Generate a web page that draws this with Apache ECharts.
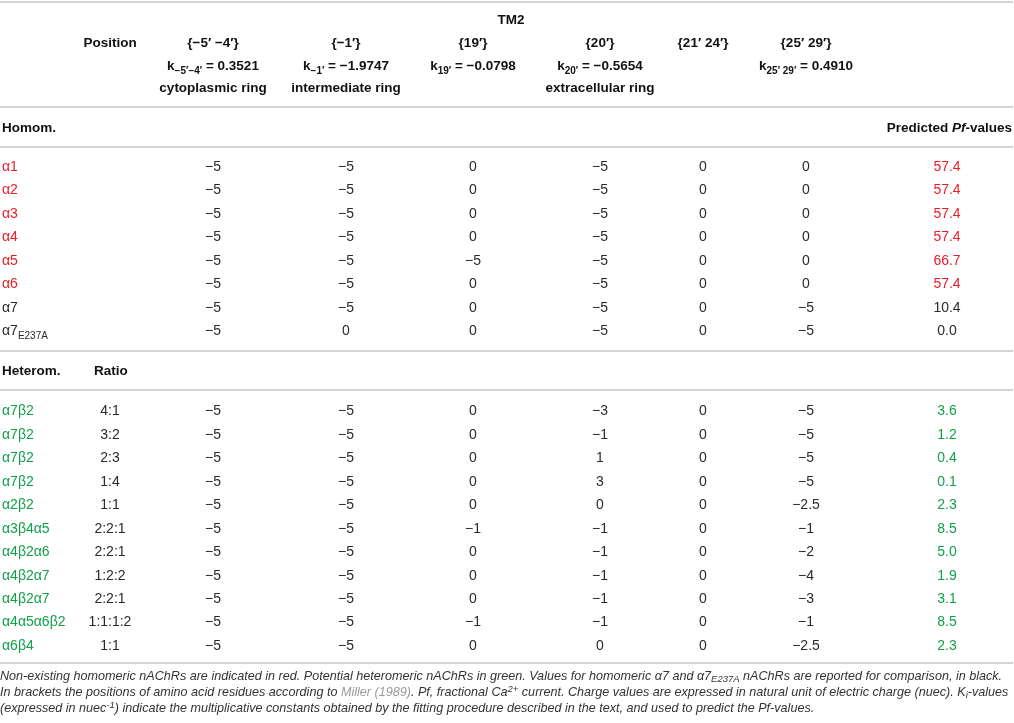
<!DOCTYPE html>
<html><head><meta charset="utf-8">
<script src="https://cdn.jsdelivr.net/npm/echarts@6/dist/echarts.min.js"></script>
<style>html,body{margin:0;padding:0;background:#fff}#c{width:1014px;height:723px}</style>
</head><body><div id="c"></div>
<script>
// ---------- DATA ----------
const colHeads   = ['{−5′ −4′}', '{−1′}', '{19′}', '{20′}', '{21′ 24′}', '{25′ 29′}'];
const kLabels    = ['k{ks|−5′−4′} = 0.3521', 'k{ks|−1′} = −1.9747', 'k{ks|19′} = −0.0798', 'k{ks|20′} = −0.5654', '', 'k{ks|25′ 29′} = 0.4910'];
const ringLabels = ['cytoplasmic ring', 'intermediate ring', '', 'extracellular ring', '', ''];

const homomNames  = ['α1', 'α2', 'α3', 'α4', 'α5', 'α6', 'α7', 'α7{sub|E237A}'];
const homomStatus = ['nonexisting', 'nonexisting', 'nonexisting', 'nonexisting', 'nonexisting', 'nonexisting', 'reference', 'reference'];
const homomC1 = [-5, -5, -5, -5, -5, -5, -5, -5];
const homomC2 = [-5, -5, -5, -5, -5, -5, -5, 0];
const homomC3 = [0, 0, 0, 0, -5, 0, 0, 0];
const homomC4 = [-5, -5, -5, -5, -5, -5, -5, -5];
const homomC5 = [0, 0, 0, 0, 0, 0, 0, 0];
const homomC6 = [0, 0, 0, 0, 0, 0, -5, -5];
const homomPf = [57.4, 57.4, 57.4, 57.4, 66.7, 57.4, 10.4, 0.0];

const heteroNames  = ['α7β2', 'α7β2', 'α7β2', 'α7β2', 'α2β2', 'α3β4α5', 'α4β2α6', 'α4β2α7', 'α4β2α7', 'α4α5α6β2', 'α6β4'];
const heteroStatus = ['potential', 'potential', 'potential', 'potential', 'potential', 'potential', 'potential', 'potential', 'potential', 'potential', 'potential'];
const heteroRatio  = ['4:1', '3:2', '2:3', '1:4', '1:1', '2:2:1', '2:2:1', '1:2:2', '2:2:1', '1:1:1:2', '1:1'];
const heteroC1 = [-5, -5, -5, -5, -5, -5, -5, -5, -5, -5, -5];
const heteroC2 = [-5, -5, -5, -5, -5, -5, -5, -5, -5, -5, -5];
const heteroC3 = [0, 0, 0, 0, 0, -1, 0, 0, 0, -1, 0];
const heteroC4 = [-3, -1, 1, 3, 0, -1, -1, -1, -1, -1, 0];
const heteroC5 = [0, 0, 0, 0, 0, 0, 0, 0, 0, 0, 0];
const heteroC6 = [-5, -5, -5, -5, -2.5, -1, -2, -4, -3, -1, -2.5];
const heteroPf = [3.6, 1.2, 0.4, 0.1, 2.3, 8.5, 5.0, 1.9, 3.1, 8.5, 2.3];

// ---------- STYLE / LAYOUT ----------
const FONT = '"Liberation Sans", Arial, Helvetica, sans-serif';
const statusColor = { nonexisting: '#ec1c28', reference: '#2a2a2a', potential: '#12a04a' };
const VALUE_COLOR = '#2a2a2a';
const HEAD_COLOR = '#111111';
const RULE_COLOR = '#c6c6c6';
const ROW_H = 23.45;
const L = {
  homTop: 167 - ROW_H / 2,
  hetTop: 411.5 - ROW_H / 2,
  nameX: 2, ratioX: 110,
  colX: [213, 346, 473, 600, 703, 806],
  pfX: 947,
  rules: [2, 107, 147, 351, 390, 663],
  headY: [43, 66, 88],
  tm2: { x: 511, y: 20 },
  sub1Y: 128, sub2Y: 371,
  footY: [676, 692, 708]
};

const fmt = v => (v < 0 ? '−' + Math.abs(v) : String(v));
const fmtPf = v => v.toFixed(1);

const grids = [], xAxes = [], yAxes = [], series = [];
const subRich = {
  sub: { fontFamily: FONT, fontSize: 10, verticalAlign: 'bottom', lineHeight: 10 }
};
function addColumn(texts, colors, x, align, top) {
  const n = texts.length;
  const gi = grids.length;
  const w = 120;
  grids.push({ left: align === 'left' ? x : x - w / 2, top: top, width: w, height: n * ROW_H });
  xAxes.push({ gridIndex: gi, type: 'value', min: align === 'left' ? 0 : -1, max: 1, show: false });
  yAxes.push({ gridIndex: gi, type: 'value', min: -0.5, max: n - 0.5, inverse: true, show: false });
  series.push({
    type: 'scatter', xAxisIndex: gi, yAxisIndex: gi, symbolSize: 1, clip: false, silent: true,
    itemStyle: { color: 'rgba(0,0,0,0)' },
    data: texts.map((t, i) => ({ value: [0, i], label: { color: colors[i], rich: { sub: Object.assign({ color: colors[i] }, subRich.sub) } } })),
    label: {
      show: true, position: 'inside', align: align, verticalAlign: 'middle', opacity: 1,
      fontFamily: FONT, fontSize: 14, lineHeight: 20, textBorderWidth: 0,
      formatter: p => texts[p.dataIndex]
    }
  });
}
function section(names, status, ratio, cols, pf, top) {
  const nameColors = status.map(s => statusColor[s]);
  const plain = names.map(() => VALUE_COLOR);
  addColumn(names, nameColors, L.nameX, 'left', top);
  if (ratio) addColumn(ratio, plain, L.ratioX, 'center', top);
  cols.forEach((c, j) => addColumn(c.map(fmt), plain, L.colX[j], 'center', top));
  addColumn(pf.map(fmtPf), nameColors, L.pfX, 'center', top);
}
section(homomNames, homomStatus, null, [homomC1, homomC2, homomC3, homomC4, homomC5, homomC6], homomPf, L.homTop);
section(heteroNames, heteroStatus, heteroRatio, [heteroC1, heteroC2, heteroC3, heteroC4, heteroC5, heteroC6], heteroPf, L.hetTop);

// ---------- STATIC TEXT (header, footnote, rules) ----------
const graphic = [];
L.rules.forEach(y => graphic.push({ type: 'line', silent: true, shape: { x1: 0, y1: y, x2: 1013, y2: y }, style: { stroke: RULE_COLOR, lineWidth: 1.5 } }));
function txt(text, x, y, align, opts) {
  opts = opts || {};
  graphic.push({
    type: 'text', silent: true, x: x, y: y,
    style: Object.assign({
      text: text, align: align, verticalAlign: 'middle', textAlign: align, textVerticalAlign: 'middle',
      fontFamily: FONT, fontSize: opts.fontSize || 13.5, fontWeight: opts.fontWeight || 'bold',
      fontStyle: opts.fontStyle || 'normal', fill: opts.fill || HEAD_COLOR, lineHeight: opts.lineHeight || 18,
      rich: opts.rich
    })
  });
}
const headRich = {
  ks: { fontFamily: FONT, fontSize: 10, fontWeight: 'bold', fill: HEAD_COLOR, verticalAlign: 'bottom', lineHeight: 10 },
  it: { fontFamily: FONT, fontSize: 13.5, fontWeight: 'bold', fontStyle: 'italic', fill: HEAD_COLOR }
};
txt('TM2', L.tm2.x, L.tm2.y, 'center');
txt('Position', L.ratioX, L.headY[0], 'center');
colHeads.forEach((t, j) => {
  txt(t, L.colX[j], L.headY[0], 'center');
  if (kLabels[j]) txt(kLabels[j], L.colX[j], L.headY[1], 'center', { rich: headRich, lineHeight: 20 });
  if (ringLabels[j]) txt(ringLabels[j], L.colX[j], L.headY[2], 'center');
});
txt('Homom.', L.nameX, L.sub1Y, 'left');
txt('Predicted {it|Pf}-values', 1012, L.sub1Y, 'right', { rich: headRich });
txt('Heterom.', L.nameX, L.sub2Y, 'left');
txt('Ratio', 94, L.sub2Y, 'left');

const FOOT_SIZE = 12.6;
const footBase = { fontFamily: FONT, fontSize: FOOT_SIZE, fontStyle: 'italic', fontWeight: 'normal' };
const footRich = {
  sub: Object.assign({}, footBase, { fontSize: 9.5, fill: '#333', verticalAlign: 'bottom', lineHeight: 9 }),
  sup: Object.assign({}, footBase, { fontSize: 9.5, fill: '#333', verticalAlign: 'top', lineHeight: 9 }),
  g: Object.assign({}, footBase, { fill: '#9a9a9a' })
};
const footLines = [
  'Non-existing homomeric nAChRs are indicated in red. Potential heteromeric nAChRs in green. Values for homomeric α7 and α7{sub|E237A} nAChRs are reported for comparison, in black.',
  'In brackets the positions of amino acid residues according to {g|Miller (1989)}. Pf, fractional Ca{sup|2+} current. Charge values are expressed in natural unit of electric charge (nuec). K{sub|i}-values',
  '(expressed in nuec{sup|-1}) indicate the multiplicative constants obtained by the fitting procedure described in the text, and used to predict the Pf-values.'
];
footLines.forEach((t, i) => txt(t, 0, L.footY[i], 'left', { fontSize: FOOT_SIZE, fontWeight: 'normal', fontStyle: 'italic', fill: '#333', rich: footRich, lineHeight: 16 }));

const chart = echarts.init(document.getElementById('c'), null, { renderer: 'canvas' });
chart.setOption({
  animation: false,
  backgroundColor: '#ffffff',
  grid: grids, xAxis: xAxes, yAxis: yAxes, series: series,
  graphic: graphic
});
</script></body></html>
